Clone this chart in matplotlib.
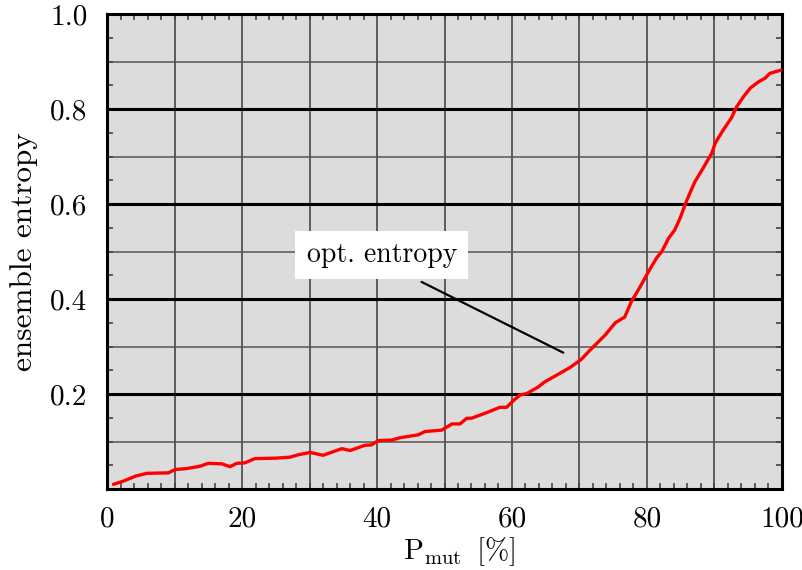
import matplotlib
matplotlib.use("Agg")
from matplotlib import pyplot as plt
from matplotlib.ticker import MultipleLocator, FixedLocator
import numpy as np

plt.rcParams['font.family'] = ['cmr10', 'DejaVu Serif']
plt.rcParams['mathtext.fontset'] = 'cm'
plt.rcParams['axes.formatter.use_mathtext'] = True

# mutation probability [%] and ensemble entropy
p_mut = [1.0, 2.5, 4.2, 5.9, 9.1, 10.1, 11.8, 13.8, 15.0, 17.0, 18.2, 19.2, 20.4,
         21.9, 25.1, 27.1, 28.3, 30.1, 32.0, 34.8, 36.0, 38.2, 39.2, 40.2, 42.2,
         43.4, 46.1, 47.1, 49.6, 51.1, 52.3, 53.3, 54.0, 56.3, 58.2, 59.2, 60.2,
         61.2, 62.2, 63.9, 64.9, 66.4, 68.5, 70.2, 71.6, 73.8, 75.3, 76.7, 77.7,
         79.0, 80.2, 81.4, 82.2, 83.2, 84.1, 84.9, 85.9, 87.1, 88.3, 89.6, 90.1,
         91.3, 92.5, 93.3, 94.3, 95.3, 96.5, 97.5, 98.2, 98.9, 99.9]
entropy = [0.010, 0.017, 0.027, 0.033, 0.034, 0.041, 0.043, 0.048, 0.054, 0.053,
           0.047, 0.054, 0.055, 0.064, 0.065, 0.067, 0.072, 0.077, 0.071, 0.085,
           0.081, 0.092, 0.093, 0.102, 0.103, 0.108, 0.114, 0.121, 0.124, 0.137,
           0.137, 0.149, 0.149, 0.161, 0.172, 0.172, 0.186, 0.198, 0.201, 0.215,
           0.226, 0.238, 0.255, 0.272, 0.293, 0.324, 0.350, 0.362, 0.395, 0.426,
           0.457, 0.486, 0.500, 0.528, 0.545, 0.570, 0.608, 0.647, 0.675, 0.707,
           0.728, 0.756, 0.781, 0.805, 0.826, 0.844, 0.857, 0.865, 0.875, 0.878,
           0.882]

x_ticks = [0, 20, 40, 60, 80, 100]
y_ticks = [0.2, 0.4, 0.6, 0.8, 1.0]

fig = plt.figure(figsize=(8.03, 5.70), dpi=100)
ax = fig.add_axes([0.1333, 0.1421, 0.8405, 0.8333])
ax.set_facecolor('#dcdcdc')

# grid
for gx in range(10, 100, 10):
    ax.axvline(gx, color='#3a3a3a', lw=1.1, zorder=1)
for gy in [0.1, 0.3, 0.5, 0.7, 0.9]:
    ax.axhline(gy, color='#555555', lw=1.1, zorder=1)
for gy in [0.2, 0.4, 0.6, 0.8]:
    ax.axhline(gy, color='black', lw=2.2, zorder=1)

ax.plot(p_mut, entropy, color='#ff0000', lw=2.4, zorder=3)

ax.set_xlim(0, 100)
ax.set_ylim(0, 1.0)
ax.xaxis.set_major_locator(FixedLocator(x_ticks))
ax.yaxis.set_major_locator(FixedLocator(y_ticks))
ax.set_xticklabels([str(v) for v in x_ticks])
ax.set_yticklabels(['%.1f' % v for v in y_ticks])
ax.xaxis.set_minor_locator(MultipleLocator(2))
ax.yaxis.set_minor_locator(MultipleLocator(0.05))
ax.tick_params(which='major', length=0, labelsize=21)
ax.tick_params(axis='x', which='major', pad=12)
ax.tick_params(axis='y', which='major', pad=14)
ax.tick_params(which='minor', direction='in', length=4, width=1.2, color='#444444',
               top=True, right=True, bottom=True, left=True)
for s in ax.spines.values():
    s.set_linewidth(2.2)

xl = ax.set_xlabel(r'$\mathrm{P_{mut}}\;\;[\%]$', fontsize=21, labelpad=2)
xl.set_x(0.522)
ax.set_ylabel('ensemble entropy', fontsize=22.5, labelpad=9)

# label box and pointer line
ax.text(40.7, 0.493, 'opt. entropy', fontsize=20, ha='center', va='center', zorder=5,
        bbox=dict(boxstyle='square,pad=0.4', fc='white', ec='none'))
ax.annotate('', xy=(67.6, 0.287), xytext=(46.6, 0.436),
            arrowprops=dict(arrowstyle='-', color='black', lw=1.6,
                            shrinkA=0, shrinkB=0), zorder=5)

fig.savefig('out.png', dpi=100)
